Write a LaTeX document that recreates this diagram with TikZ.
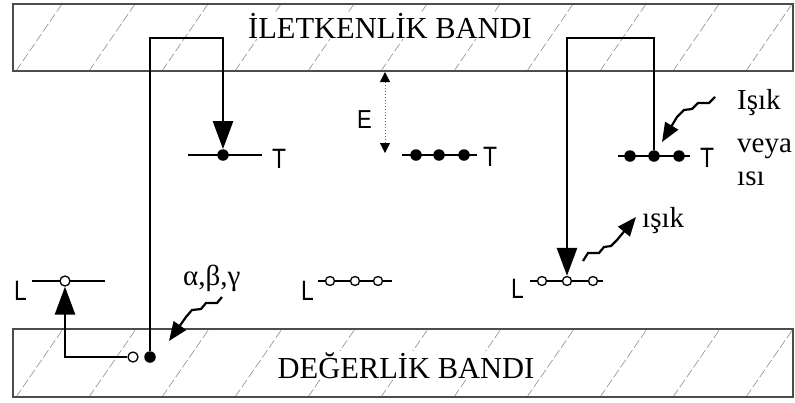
\documentclass[tikz,border=0pt]{standalone}
\usepackage{fontspec}
\usepackage{graphicx}
\setmainfont{Liberation Serif}
\newfontfamily\sansf{Liberation Sans}
\usetikzlibrary{arrows.meta}
\begin{document}
\begin{tikzpicture}[x=1pt,y=-1pt,
 band/.style={draw=black!70,line width=1.3pt},
 hatch/.style={draw=black!45,line width=0.6pt,dash pattern=on 9pt off 3pt},
 lvl/.style={line width=2.3pt},
 fdot/.style={circle,fill=black,inner sep=0pt,minimum size=11.5pt},
 odot/.style={circle,draw=black,fill=white,line width=1.3pt,inner sep=0pt,minimum size=10pt},
 trail/.style={line width=2.7pt},
 bigarrow/.style={-{Triangle[length=28pt,width=20pt]}},
 wave/.style={line width=2.2pt,line join=miter,-{Triangle[length=19pt,width=15pt]}},
 energy/.style={draw=black!60,line width=0.8pt,dash pattern=on 1.5pt off 1.5pt,
   {Triangle[length=10pt,width=10pt,color=black]}-{Triangle[length=10pt,width=10pt,color=black]}},
 bandlbl/.style={font=\fontsize{30.5}{32}\selectfont,fill=white,inner sep=1pt,anchor=base},
 serif/.style={font=\fontsize{29}{31}\selectfont,inner sep=0pt,anchor=base west},
 sanslbl/.style={font=\sansf\fontsize{28}{30}\selectfont,inner sep=0pt,anchor=base west}
]
\useasboundingbox (0,0) rectangle (795,402);
% ---- bands with hatching
\begin{scope}
 \clip (13,4) rectangle (793,71);
 \foreach \k in {0,...,10} \draw[hatch] ({16+73*\k},71) -- ++(46,-67);
\end{scope}
\begin{scope}
 \clip (13,329) rectangle (793,397);
 \foreach \k in {0,...,10} \draw[hatch] ({16+73*\k},397) -- ++(47,-68);
\end{scope}
\draw[band] (13,4) rectangle (793,71);
\draw[band] (13,329) rectangle (793,397);
\node[bandlbl] (cb) at (390,38) {İLETKENLİK BANDI};
\node[bandlbl] (vb) at (406,378) {DEĞERLİK BANDI};

% ---- level lines
\coordinate (lTa) at (188,155); \coordinate (lTb) at (262,155);
\coordinate (lLa) at (32,281);  \coordinate (lLb) at (105,281);
\coordinate (mTa) at (402,155); \coordinate (mTb) at (477,155);
\coordinate (mLa) at (318,281); \coordinate (mLb) at (392,281);
\coordinate (rTa) at (618,156); \coordinate (rTb) at (690,156);
\coordinate (rLa) at (530,281); \coordinate (rLb) at (603,281);
\draw[lvl] (lTa) -- (lTb);
\draw[lvl] (lLa) -- (lLb);
\draw[lvl] (mTa) -- (mTb);
\draw[line width=1.8pt] (mLa) -- (mLb);
\draw[lvl] (rTa) -- (rTb);
\draw[line width=1.8pt] (rLa) -- (rLb);

% ---- dots
\node[fdot] (dT)  at (223,155) {};
\node[odot] (oL)  at (65,281) {};
\node[fdot] (dB)  at (150,357) {};
\node[odot] (oB)  at (133,357) {};
\node[fdot] (m1)  at (416,155) {};
\node[fdot] (m2)  at (439,155) {};
\node[fdot] (m3)  at (464,155) {};
\node[odot,minimum size=9pt] (n1) at (330,281) {};
\node[odot,minimum size=9pt] (n2) at (355,281) {};
\node[odot,minimum size=9pt] (n3) at (378,281) {};
\node[fdot] (r1)  at (630,156) {};
\node[fdot] (r2)  at (654,156) {};
\node[fdot] (r3)  at (679,156) {};
\node[odot,minimum size=9pt] (s1) at (542,281) {};
\node[odot,minimum size=9pt] (s2) at (567,281) {};
\node[odot,minimum size=9pt] (s3) at (593,281) {};

% ---- transitions
\coordinate (cA) at (150,38);
\coordinate (cB) at (223,38);
\coordinate (cC) at (65,357);
\draw[trail,bigarrow] (dB.north) -- (cA) -- (cB) -- (dT.north);
\draw[trail,bigarrow] (oB.west) -- (cC) -- (oL.south);
\coordinate (cD) at (654,38);
\coordinate (cE) at (567,38);
\draw[trail,bigarrow] (r2.north) -- (cD) -- (cE) -- (s2.north);

% ---- energy gap arrow
\coordinate (eTop) at (385,72);
\coordinate (eBot) at (385,153);
\draw[energy] (eTop) -- (eBot);

% ---- wavy arrows
\coordinate (w1s) at (222,297); \coordinate (w1e) at (169,341);
\draw[wave] (w1s) -- ++(-5,6) -- ++(-11,0) -- ++(-5,6) -- ++(-9,1) -- ++(-6,7) -- (w1e);
\coordinate (w2s) at (715,97); \coordinate (w2e) at (662,142);
\draw[wave] (w2s) -- ++(-6,6) -- ++(-11,0) -- ++(-6,6) -- ++(-8,1) -- ++(-7,7) -- (w2e);
\coordinate (w3s) at (583,261); \coordinate (w3e) at (636,217);
\draw[wave] (w3s) -- ++(5,-8) -- ++(11,0) -- ++(5,-6) -- ++(7,-1) -- ++(6,-6) -- (w3e);

% ---- labels
\node[sanslbl] (tl1) at (272,168) {\scalebox{0.82}[1]{T}};
\node[sanslbl] (tl2) at (483,166) {\scalebox{0.82}[1]{T}};
\node[sanslbl] (tl3) at (700,167) {\scalebox{0.82}[1]{T}};
\node[sanslbl] (ll1) at (14,300) {\scalebox{0.82}[1]{L}};
\node[sanslbl] (ll2) at (301,300) {\scalebox{0.82}[1]{L}};
\node[sanslbl] (ll3) at (511,298) {\scalebox{0.82}[1]{L}};
\node[sanslbl,font=\sansf\fontsize{26}{28}\selectfont] (el) at (357,128) {\scalebox{0.85}[1]{E}};
\node[serif] (abg) at (183,285) {α,β,γ};
\node[serif] (isik1) at (737,109) {Işık};
\node[serif] (veya) at (737,152) {veya};
\node[serif] (isi) at (737,185) {ısı};
\node[serif] (isik2) at (642,227) {ışık};
\end{tikzpicture}
\end{document}
